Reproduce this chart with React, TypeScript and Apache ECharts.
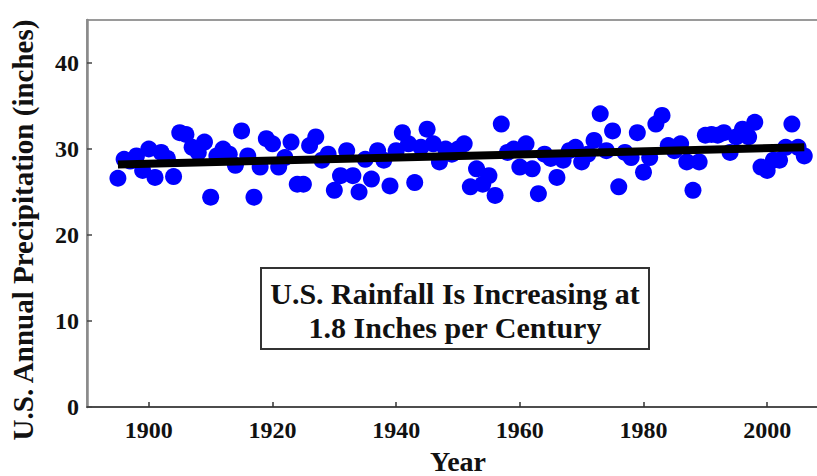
import React, { useEffect, useRef } from "react";
import * as echarts from "echarts";

const startYear = 1895;
const precipitation = [
  26.6, 28.8, 28.6, 29.2, 27.5, 30.0, 26.7, 29.6, 28.9, 26.8,
  31.9, 31.7, 30.2, 29.6, 30.8, 24.4, 29.2, 30.0, 29.4, 28.1,
  32.1, 29.2, 24.4, 27.9, 31.2, 30.6, 27.9, 29.0, 30.8, 25.9,
  25.9, 30.4, 31.4, 28.7, 29.4, 25.2, 26.9, 29.8, 26.9, 25.0,
  28.8, 26.5, 29.8, 28.7, 25.7, 29.8, 31.9, 30.6, 26.1, 30.2,
  32.3, 30.6, 28.5, 30.0, 29.4, 30.0, 30.6, 25.6, 27.7, 25.9,
  26.9, 24.6, 32.9, 29.6, 30.0, 27.9, 30.6, 27.7, 24.8, 29.4,
  28.9, 26.7, 28.7, 29.8, 30.2, 28.5, 29.4, 31.0, 34.1, 29.8,
  32.1, 25.6, 29.6, 29.0, 31.9, 27.3, 29.0, 32.9, 33.9, 30.4,
  29.8, 30.6, 28.5, 25.2, 28.5, 31.6, 31.7, 31.6, 31.9, 29.6,
  31.4, 32.3, 31.4, 33.1, 27.9, 27.5, 28.7, 28.7, 30.2, 32.9,
  30.2, 29.2,
];
const years = precipitation.map((_, i) => startYear + i);

const trendYears = [1895, 2006];
const trendValues = [28.2, 30.2];

const xTicks = [1900, 1920, 1940, 1960, 1980, 2000];
const yTicks = [0, 10, 20, 30, 40];

const FONT = "Liberation Serif";

export default function App() {
  const ref = useRef<HTMLDivElement>(null);
  useEffect(() => {
    if (!ref.current) return;
    const chart = echarts.init(ref.current, null, { renderer: "svg" });
    const labelStyle = {
      color: "#111",
      fontFamily: FONT,
      fontWeight: "bold" as const,
      fontSize: 24,
      formatter: (v: number) => String(v),
    };
    const textStyle = (text: string, size: number) => ({
      text,
      fill: "#111",
      fontFamily: FONT,
      fontWeight: "bold",
      fontSize: size,
      textAlign: "center",
      textVerticalAlign: "middle",
    });
    chart.setOption({
      animation: false,
      backgroundColor: "#fff",
      grid: {
        left: 87,
        top: 20,
        width: 742,
        height: 387,
        outerBoundsMode: "none",
        containLabel: false,
        show: true,
        borderColor: "#9a9a9a",
        borderWidth: 2,
        backgroundColor: "transparent",
      },
      xAxis: {
        type: "value",
        min: 1890,
        max: 2010,
        name: "Year",
        nameLocation: "middle",
        nameGap: 40,
        nameTextStyle: {
          color: "#111",
          fontFamily: FONT,
          fontWeight: "bold",
          fontSize: 28,
        },
        axisLine: { show: true, lineStyle: { color: "#333", width: 1.5 } },
        axisTick: {
          show: true,
          inside: true,
          length: 5,
          customValues: xTicks,
          lineStyle: { color: "#333", width: 1.5 },
        },
        axisLabel: { ...labelStyle, margin: 11, customValues: xTicks },
        splitLine: { show: false },
      },
      yAxis: {
        type: "value",
        min: 0,
        max: 45,
        axisLine: { show: true, lineStyle: { color: "#8a8a8a", width: 2.5 } },
        axisTick: {
          show: true,
          inside: true,
          length: 5,
          customValues: yTicks,
          lineStyle: { color: "#444", width: 1.5 },
        },
        axisLabel: { ...labelStyle, margin: 8, customValues: yTicks },
        splitLine: { show: false },
      },
      series: [
        {
          type: "scatter",
          data: years.map((y, i) => [y, precipitation[i]]),
          symbol: "circle",
          symbolSize: 17,
          itemStyle: { color: "#0000ff", opacity: 1 },
          z: 2,
        },
        {
          type: "line",
          data: trendYears.map((y, i) => [y, trendValues[i]]),
          symbol: "none",
          lineStyle: { color: "#000", width: 8 },
          z: 3,
        },
      ],
      graphic: [
        {
          type: "text",
          x: 23,
          y: 230,
          rotation: Math.PI / 2,
          style: textStyle("U.S. Annual Precipitation (inches)", 29),
        },
        {
          type: "rect",
          shape: { x: 261, y: 268, width: 388, height: 81 },
          style: { fill: "#fff", stroke: "#333", lineWidth: 2 },
          z: 10,
        },
        {
          type: "text",
          x: 455,
          y: 293,
          style: textStyle("U.S. Rainfall Is Increasing at", 30),
          z: 11,
        },
        {
          type: "text",
          x: 455,
          y: 327,
          style: textStyle("1.8 Inches per Century", 30),
          z: 11,
        },
      ],
    });
    return () => chart.dispose();
  }, []);
  return (
    <div
      ref={ref}
      style={{ position: "fixed", left: 0, top: 0, width: 817, height: 476 }}
    />
  );
}
